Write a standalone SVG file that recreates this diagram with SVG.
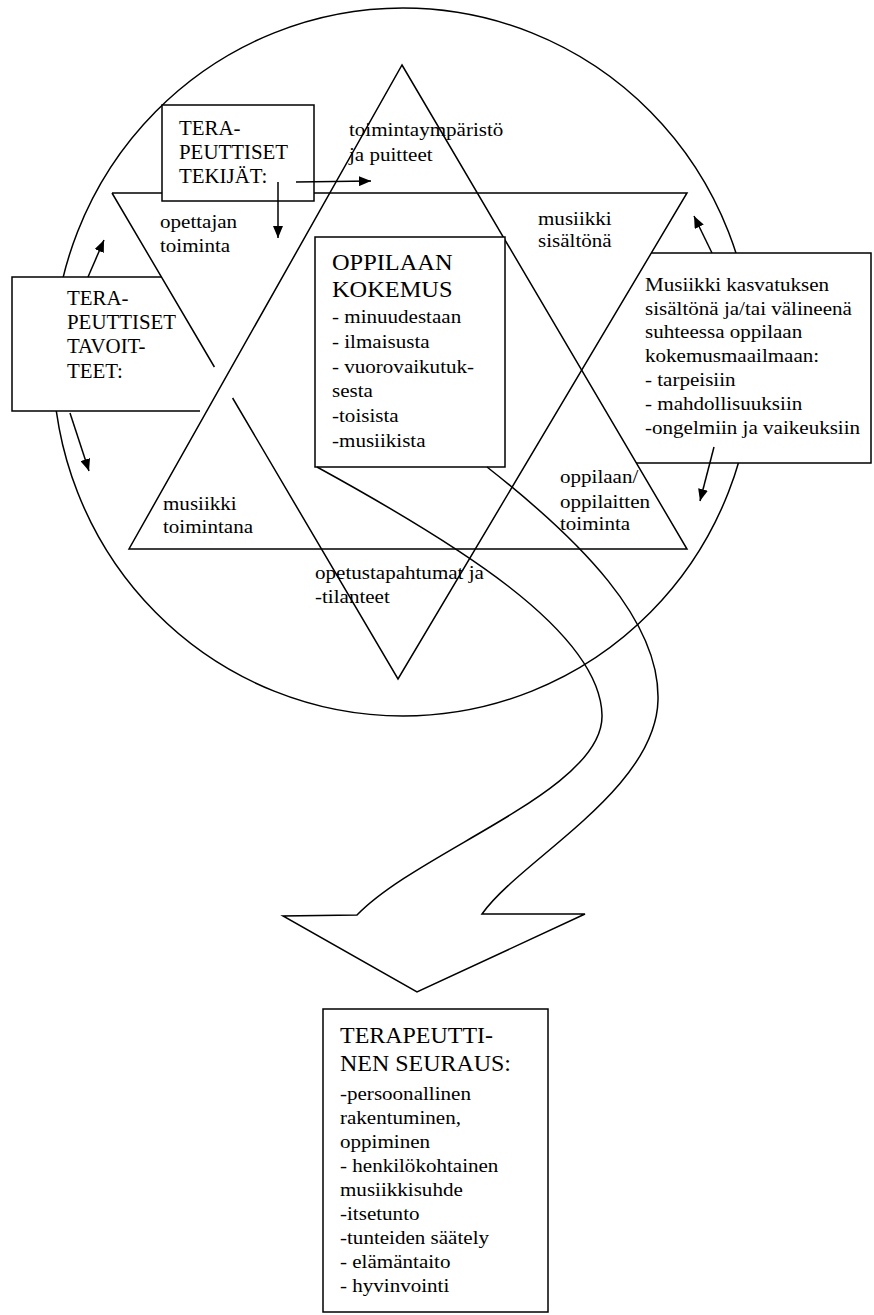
<svg xmlns="http://www.w3.org/2000/svg" width="874" height="1315" viewBox="0 0 874 1315">
<style>
text{font-family:"Liberation Serif","Times New Roman",serif;fill:#000}
.b{font-size:19.5px}
.h{font-size:20.5px}
.hk{font-size:23px}
.hs{font-size:23.5px}
.ln{fill:none;stroke:#000;stroke-width:1.5}
.wf{fill:#fff;stroke:none}
.bx{fill:#fff;stroke:#000;stroke-width:1.5}
.ar{fill:none;stroke:#000;stroke-width:1.5;marker-end:url(#ah)}
</style>
<defs>
<marker id="ah" markerUnits="userSpaceOnUse" markerWidth="13" markerHeight="10" refX="12" refY="5" orient="auto">
<path d="M0,0 L12,5 L0,10 z" fill="#000"/>
</marker>
</defs>
<rect width="874" height="1315" fill="#fff"/>

<g id="circle">
<ellipse class="ln" cx="403" cy="362" rx="350" ry="354"/>
</g>

<g id="box-fills">
<polygon class="wf" points="12,277 161,277 206,411 12,411"/>
<polygon class="wf" points="651,253 871,253 871,463 636,463 581,370"/>
</g>

<g id="star">
<path class="ln" d="M402,65 L687,549 L129,549 Z"/>
<path class="ln" d="M112,193 L687,193 L398,679 L232.6,398 M214.4,367 L112,193"/>
</g>

<g id="node-tavoitteet">
<path class="ln" d="M161,277 L12,277 L12,411 L200,411"/>
<text class="h" transform="translate(67,305) scale(1.02,1)"><tspan x="0" y="0">TERA-</tspan><tspan x="0" y="24.5">PEUTTISET</tspan><tspan x="0" y="48.5">TAVOIT-</tspan><tspan x="0" y="73">TEET:</tspan></text>
</g>

<g id="node-musiikki">
<path class="ln" d="M651,253 L871,253 L871,463 L636,463"/>
<text class="b" transform="translate(645,291) scale(1.08,1)"><tspan x="0" y="0">Musiikki kasvatuksen</tspan><tspan x="0" y="24">sisältönä ja/tai välineenä</tspan><tspan x="0" y="47">suhteessa oppilaan</tspan><tspan x="0" y="71">kokemusmaailmaan:</tspan><tspan x="0" y="95">- tarpeisiin</tspan><tspan x="0" y="119">- mahdollisuuksiin</tspan><tspan x="0" y="143">-ongelmiin ja vaikeuksiin</tspan></text>
</g>

<g id="node-tekijat">
<rect class="bx" x="162" y="105" width="152" height="96"/>
<text class="h" transform="translate(179,135) scale(1.02,1)"><tspan x="0" y="0">TERA-</tspan><tspan x="0" y="24">PEUTTISET</tspan><tspan x="0" y="48">TEKIJÄT:</tspan></text>
</g>

<g id="node-oppilaan-kokemus">
<rect class="bx" x="315" y="237" width="190" height="230"/>
<text class="hk" transform="translate(332,270) scale(1.06,1)"><tspan x="0" y="0">OPPILAAN</tspan><tspan x="0" y="27">KOKEMUS</tspan></text>
<text class="b" transform="translate(332,323) scale(1.08,1)"><tspan x="0" y="0">- minuudestaan</tspan><tspan x="0" y="25">- ilmaisusta</tspan><tspan x="0" y="50">- vuorovaikutuk-</tspan><tspan x="0" y="74">sesta</tspan><tspan x="0" y="99">-toisista</tspan><tspan x="0" y="124">-musiikista</tspan></text>
</g>

<g id="label-toimintaymparisto">
<text class="b" transform="translate(349,136) scale(1.08,1)"><tspan x="0" y="0">toimintaympäristö</tspan><tspan x="0" y="25">ja puitteet</tspan></text>
</g>
<g id="label-opettajan">
<text class="b" transform="translate(160,228) scale(1.08,1)"><tspan x="0" y="0">opettajan</tspan><tspan x="0" y="24">toiminta</tspan></text>
</g>
<g id="label-musiikki-sisaltona">
<text class="b" transform="translate(538,225) scale(1.08,1)"><tspan x="0" y="0">musiikki</tspan><tspan x="0" y="22">sisältönä</tspan></text>
</g>
<g id="label-musiikki-toimintana">
<text class="b" transform="translate(163,510) scale(1.08,1)"><tspan x="0" y="0">musiikki</tspan><tspan x="0" y="23">toimintana</tspan></text>
</g>
<g id="label-oppilaan-toiminta">
<text class="b" transform="translate(560,483) scale(1.08,1)"><tspan x="0" y="0">oppilaan/</tspan><tspan x="0" y="25">oppilaitten</tspan><tspan x="0" y="47">toiminta</tspan></text>
</g>
<g id="label-opetustapahtumat">
<text class="b" transform="translate(315,579) scale(1.08,1)"><tspan x="0" y="0">opetustapahtumat ja</tspan><tspan x="0" y="24">-tilanteet</tspan></text>
</g>

<g id="node-seuraus">
<rect class="bx" x="323" y="1009" width="225" height="303"/>
<text class="hs" transform="translate(340,1043) scale(1.02,1)"><tspan x="0" y="0">TERAPEUTTI-</tspan><tspan x="0" y="28">NEN SEURAUS:</tspan></text>
<text class="b" transform="translate(340,1100) scale(1.08,1)"><tspan x="0" y="0">-persoonallinen</tspan><tspan x="0" y="24">rakentuminen,</tspan><tspan x="0" y="48">oppiminen</tspan><tspan x="0" y="72">- henkilökohtainen</tspan><tspan x="0" y="96">musiikkisuhde</tspan><tspan x="0" y="120">-itsetunto</tspan><tspan x="0" y="144">-tunteiden säätely</tspan><tspan x="0" y="168">- elämäntaito</tspan><tspan x="0" y="192">- hyvinvointi</tspan></text>
</g>

<g id="connectors">
<path class="ln" d="M317,467 C450,540 600,630 602,715 C604,790 420,850 357,915 L283,916 L417,992 L585,914 L482,914 C520,860 656,790 658,700 C660,620 580,540 487,467"/>
<line class="ar" x1="296" y1="182" x2="371" y2="181"/>
<line class="ar" x1="278" y1="182" x2="278" y2="238"/>
<line class="ar" x1="88" y1="277" x2="104" y2="240"/>
<line class="ar" x1="70" y1="413" x2="89" y2="471"/>
<line class="ar" x1="712" y1="253" x2="694" y2="216"/>
<line class="ar" x1="714" y1="447" x2="700" y2="501"/>
</g>
</svg>
